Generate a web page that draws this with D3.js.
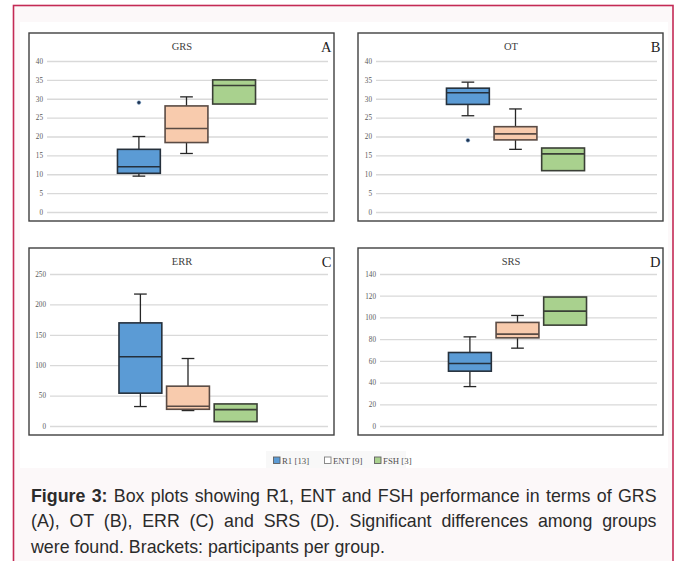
<!DOCTYPE html>
<html><head><meta charset="utf-8">
<script src="https://cdn.jsdelivr.net/npm/d3@7"></script>
<style>
html,body{margin:0;padding:0;background:#fff;}
svg{display:block;}
</style></head>
<body>
<svg id="chart" width="677" height="561"></svg>
<script>
// ---- data ----
const metrics = ["GRS", "OT", "ERR", "SRS"];
const panelLetters = ["A", "B", "C", "D"];
const yMaxes = [40, 40, 250, 140];
const yTickSteps = [5, 5, 50, 20];
const groups = ["R1", "ENT", "FSH"];
const groupCounts = [13, 9, 3];
// [min, q1, median, q3, max] per group
const grsStats = [[9.5, 10.25, 12, 16.6, 20], [15.5, 18.4, 22.1, 28.1, 30.5], [28.6, 28.6, 33.5, 35, 35]];
const otStats  = [[25.5, 28.5, 31.6, 32.8, 34.4], [16.6, 19.1, 20.7, 22.6, 27.3], [10.95, 10.95, 15.4, 16.95, 16.95]];
const errStats = [[32, 54, 114, 169.6, 217], [25.4, 27.5, 32.5, 65.5, 111], [7.2, 7.2, 27, 36.3, 36.3]];
const srsStats = [[36.3, 50.5, 57.5, 67.7, 82.1], [71.7, 81.2, 84.6, 95.4, 101.8], [92.9, 92.9, 105.8, 118.8, 118.8]];
const grsOutliers = [[29], [], []];
const otOutliers  = [[19], [], []];
const errOutliers = [[], [], []];
const srsOutliers = [[], [], []];
const captionLines = [
  ["Figure 3:", " Box plots showing R1, ENT and FSH performance in terms of GRS"],
  ["", "(A), OT (B), ERR (C) and SRS (D). Significant differences among groups"],
  ["", "were found. Brackets: participants per group."]
];

const allStats = [grsStats, otStats, errStats, srsStats];
const allOutliers = [grsOutliers, otOutliers, errOutliers, srsOutliers];

// ---- styles / layout ----
const fills = ["#5b9bd5", "#f8cbad", "#a9d18e"];
const strokes = ["#25303c", "#5a4b44", "#3a3f36"];
const serif = "'Liberation Serif', 'Times New Roman', serif";
const layouts = [
  {fx: 29, fy: 33, fw: 305, fh: 188, pl: 47, pr: 328, y0: 212, yt: 61},
  {fx: 358, fy: 33, fw: 305, fh: 188, pl: 376, pr: 657, y0: 212, yt: 61},
  {fx: 29, fy: 248, fw: 305, fh: 187, pl: 50, pr: 328, y0: 426, yt: 274},
  {fx: 358, fy: 248, fw: 305, fh: 187, pl: 380, pr: 657, y0: 426, yt: 274}
];

const svg = d3.select("#chart");

// outer page frame
svg.append("rect").attr("x", 13.5).attr("y", 5.5).attr("width", 659.5).attr("height", 570)
  .attr("fill", "#fcf8f9").attr("stroke", "#c42a55").attr("stroke-width", 1.6);
svg.append("rect").attr("x", 20).attr("y", 22).attr("width", 648).attr("height", 446).attr("fill", "#ffffff");

metrics.forEach((m, pi) => {
  const L = layouts[pi];
  const g = svg.append("g");
  g.append("rect").attr("x", L.fx).attr("y", L.fy).attr("width", L.fw).attr("height", L.fh)
    .attr("fill", "#fff").attr("stroke", "#404040").attr("stroke-width", 1.4);

  const y = d3.scaleLinear().domain([0, yMaxes[pi]]).range([L.y0, L.yt]);
  const ticks = d3.range(0, yMaxes[pi] + 1e-9, yTickSteps[pi]);
  const axis = d3.axisLeft(y).tickValues(ticks).tickSize(-(L.pr - L.pl)).tickPadding(4).tickFormat(d3.format("d"));
  const ag = g.append("g").attr("transform", `translate(${L.pl},0)`).call(axis);
  ag.select(".domain").remove();
  ag.selectAll(".tick line").attr("stroke", "#d9d9d9").attr("stroke-width", 1.3);
  ag.selectAll(".tick text").attr("fill", "#595959").attr("font-family", serif).attr("font-size", 7.2);

  g.append("text").attr("x", L.fx + L.fw / 2 + 0.5).attr("y", L.fy + 17).attr("text-anchor", "middle")
    .attr("font-family", serif).attr("font-size", 10.5).attr("fill", "#404040").text(m);
  g.append("text").attr("x", L.fx + L.fw - 2.5).attr("y", L.fy + 19).attr("text-anchor", "end")
    .attr("font-family", serif).attr("font-size", 14.5).attr("fill", "#222").text(panelLetters[pi]);

  const center = (L.pl + L.pr) / 2 - 1;
  const x = d3.scaleBand().domain(groups).range([center - 71.4, center + 71.4]).paddingInner(0.1).paddingOuter(0.05);
  const bw = x.bandwidth();
  groups.forEach((grp, gi) => {
    const s = allStats[pi][gi];
    const x0 = x(grp), cx = x0 + bw / 2;
    const bg = g.append("g");
    const capW = 12.7;
    if (s[4] > s[3]) {
      bg.append("line").attr("x1", cx).attr("x2", cx).attr("y1", y(s[3])).attr("y2", y(s[4])).attr("stroke", "#262626").attr("stroke-width", 1.3);
      bg.append("line").attr("x1", cx - capW / 2).attr("x2", cx + capW / 2).attr("y1", y(s[4])).attr("y2", y(s[4])).attr("stroke", "#262626").attr("stroke-width", 1.3);
    }
    if (s[0] < s[1]) {
      bg.append("line").attr("x1", cx).attr("x2", cx).attr("y1", y(s[1])).attr("y2", y(s[0])).attr("stroke", "#262626").attr("stroke-width", 1.3);
      bg.append("line").attr("x1", cx - capW / 2).attr("x2", cx + capW / 2).attr("y1", y(s[0])).attr("y2", y(s[0])).attr("stroke", "#262626").attr("stroke-width", 1.3);
    }
    bg.append("rect").attr("x", x0).attr("y", y(s[3])).attr("width", bw).attr("height", y(s[1]) - y(s[3]))
      .attr("fill", fills[gi]).attr("stroke", strokes[gi]).attr("stroke-width", 1.6);
    bg.append("line").attr("x1", x0).attr("x2", x0 + bw).attr("y1", y(s[2])).attr("y2", y(s[2]))
      .attr("stroke", strokes[gi]).attr("stroke-width", 1.6);
    allOutliers[pi][gi].forEach(o => {
      bg.append("circle").attr("cx", cx).attr("cy", y(o)).attr("r", 1.9)
        .attr("fill", "#1f3350").attr("stroke", "#8fb3d9").attr("stroke-width", 0.6);
    });
  });
});

// legend
const legendX = [273, 324, 374];
const lg = svg.append("g");
lg.append("rect").attr("x", 266).attr("y", 451).attr("width", 140).attr("height", 17).attr("fill", "#f8f8f8");
groups.forEach((grp, gi) => {
  lg.append("rect").attr("x", legendX[gi] + 0.5).attr("y", 457).attr("width", 6.5).attr("height", 6.5)
    .attr("fill", gi === 1 ? "#ffffff" : fills[gi]).attr("stroke", gi === 1 ? "#7f7f7f" : "#5f5f5f").attr("stroke-width", 0.9);
  lg.append("text").attr("x", legendX[gi] + 9).attr("y", 464).attr("font-family", serif).attr("font-size", 8.8)
    .attr("fill", "#505050").text(`${grp} [${groupCounts[gi]}]`);
});

// caption
const capX = 31, capW = 625.5, capY = [501.5, 527, 552.5];
captionLines.forEach((ln, i) => {
  const t = svg.append("text").attr("x", capX).attr("y", capY[i])
    .attr("font-family", "'Liberation Sans', Arial, sans-serif").attr("font-size", 17.8).attr("fill", "#2b2b2b");
  if (ln[0]) t.append("tspan").attr("font-weight", "bold").text(ln[0]);
  t.append("tspan").text(ln[1]);
  if (i < captionLines.length - 1) {
    const w = t.node().getComputedTextLength();
    const spaces = (ln[0] + ln[1]).split(" ").length - 1;
    t.attr("word-spacing", Math.max(0, (capW - w) / spaces));
  }
});
</script>
</body></html>
